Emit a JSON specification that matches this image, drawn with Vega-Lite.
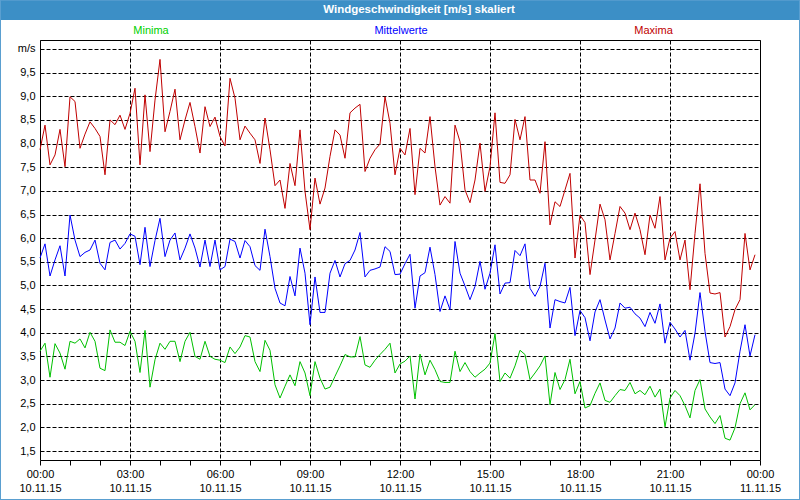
{
  "$schema": "https://vega.github.io/schema/vega-lite/v6.json",
  "width": 720,
  "height": 420,
  "autosize": {"type": "none"},
  "padding": {"left": 40, "top": 40, "right": 40, "bottom": 40},
  "background": "white",
  "config": {
    "font": "Liberation Sans",
    "view": {"stroke": "black", "strokeWidth": 1},
    "axis": {"labelFont": "Liberation Sans", "labelFontSize": 11, "labelColor": "#000000"}
  },
  "layer": [
    {
      "data": {"format": {"parse": {"t": "utc:'%Y-%m-%dT%H:%M'"}}, "values": [
{"t":"2015-11-10T00:00","Minima":3.61,"Mittelwerte":5.58,"Maxima":7.87},
{"t":"2015-11-10T00:10","Minima":3.78,"Mittelwerte":5.88,"Maxima":8.39},
{"t":"2015-11-10T00:20","Minima":3.06,"Mittelwerte":5.20,"Maxima":7.55},
{"t":"2015-11-10T00:30","Minima":3.77,"Mittelwerte":5.54,"Maxima":7.76},
{"t":"2015-11-10T00:40","Minima":3.57,"Mittelwerte":5.84,"Maxima":8.30},
{"t":"2015-11-10T00:50","Minima":3.23,"Mittelwerte":5.20,"Maxima":7.51},
{"t":"2015-11-10T01:00","Minima":3.82,"Mittelwerte":6.49,"Maxima":8.99},
{"t":"2015-11-10T01:10","Minima":3.78,"Mittelwerte":5.96,"Maxima":8.89},
{"t":"2015-11-10T01:20","Minima":3.87,"Mittelwerte":5.61,"Maxima":7.90},
{"t":"2015-11-10T01:30","Minima":3.68,"Mittelwerte":5.70,"Maxima":8.20},
{"t":"2015-11-10T01:40","Minima":4.01,"Mittelwerte":5.75,"Maxima":8.46},
{"t":"2015-11-10T01:50","Minima":3.82,"Mittelwerte":5.96,"Maxima":8.32},
{"t":"2015-11-10T02:00","Minima":3.25,"Mittelwerte":5.47,"Maxima":8.15},
{"t":"2015-11-10T02:10","Minima":3.20,"Mittelwerte":5.33,"Maxima":7.34},
{"t":"2015-11-10T02:20","Minima":4.06,"Mittelwerte":5.91,"Maxima":8.50},
{"t":"2015-11-10T02:30","Minima":3.80,"Mittelwerte":5.96,"Maxima":8.40},
{"t":"2015-11-10T02:40","Minima":3.80,"Mittelwerte":5.77,"Maxima":8.60},
{"t":"2015-11-10T02:50","Minima":3.73,"Mittelwerte":5.89,"Maxima":8.30},
{"t":"2015-11-10T03:00","Minima":4.03,"Mittelwerte":6.09,"Maxima":8.64},
{"t":"2015-11-10T03:10","Minima":3.82,"Mittelwerte":6.04,"Maxima":9.17},
{"t":"2015-11-10T03:20","Minima":3.16,"Mittelwerte":5.44,"Maxima":7.55},
{"t":"2015-11-10T03:30","Minima":4.05,"Mittelwerte":6.23,"Maxima":9.03},
{"t":"2015-11-10T03:40","Minima":2.85,"Mittelwerte":5.40,"Maxima":7.83},
{"t":"2015-11-10T03:50","Minima":3.43,"Mittelwerte":5.95,"Maxima":8.92},
{"t":"2015-11-10T04:00","Minima":3.78,"Mittelwerte":6.42,"Maxima":9.78},
{"t":"2015-11-10T04:10","Minima":3.65,"Mittelwerte":5.61,"Maxima":8.25},
{"t":"2015-11-10T04:20","Minima":3.82,"Mittelwerte":5.96,"Maxima":8.68},
{"t":"2015-11-10T04:30","Minima":3.82,"Mittelwerte":6.11,"Maxima":9.15},
{"t":"2015-11-10T04:40","Minima":3.39,"Mittelwerte":5.54,"Maxima":8.08},
{"t":"2015-11-10T04:50","Minima":3.82,"Mittelwerte":5.79,"Maxima":8.50},
{"t":"2015-11-10T05:00","Minima":4.01,"Mittelwerte":6.09,"Maxima":8.87},
{"t":"2015-11-10T05:10","Minima":3.50,"Mittelwerte":5.79,"Maxima":8.36},
{"t":"2015-11-10T05:20","Minima":3.44,"Mittelwerte":5.39,"Maxima":7.80},
{"t":"2015-11-10T05:30","Minima":3.82,"Mittelwerte":5.96,"Maxima":8.78},
{"t":"2015-11-10T05:40","Minima":3.50,"Mittelwerte":5.40,"Maxima":8.36},
{"t":"2015-11-10T05:50","Minima":3.44,"Mittelwerte":5.96,"Maxima":8.56},
{"t":"2015-11-10T06:00","Minima":3.42,"Mittelwerte":5.33,"Maxima":8.15},
{"t":"2015-11-10T06:10","Minima":3.37,"Mittelwerte":5.40,"Maxima":7.95},
{"t":"2015-11-10T06:20","Minima":3.70,"Mittelwerte":5.98,"Maxima":9.38},
{"t":"2015-11-10T06:30","Minima":3.56,"Mittelwerte":5.93,"Maxima":8.96},
{"t":"2015-11-10T06:40","Minima":3.70,"Mittelwerte":5.58,"Maxima":8.08},
{"t":"2015-11-10T06:50","Minima":3.94,"Mittelwerte":5.95,"Maxima":8.37},
{"t":"2015-11-10T07:00","Minima":3.91,"Mittelwerte":5.82,"Maxima":8.22},
{"t":"2015-11-10T07:10","Minima":3.39,"Mittelwerte":5.42,"Maxima":8.08},
{"t":"2015-11-10T07:20","Minima":3.18,"Mittelwerte":5.32,"Maxima":7.58},
{"t":"2015-11-10T07:30","Minima":3.84,"Mittelwerte":6.19,"Maxima":8.54},
{"t":"2015-11-10T07:40","Minima":3.63,"Mittelwerte":5.61,"Maxima":7.87},
{"t":"2015-11-10T07:50","Minima":2.90,"Mittelwerte":4.94,"Maxima":7.11},
{"t":"2015-11-10T08:00","Minima":2.62,"Mittelwerte":4.63,"Maxima":7.23},
{"t":"2015-11-10T08:10","Minima":2.87,"Mittelwerte":4.57,"Maxima":6.63},
{"t":"2015-11-10T08:20","Minima":3.11,"Mittelwerte":5.19,"Maxima":7.58},
{"t":"2015-11-10T08:30","Minima":2.88,"Mittelwerte":4.78,"Maxima":7.11},
{"t":"2015-11-10T08:40","Minima":3.39,"Mittelwerte":5.79,"Maxima":8.29},
{"t":"2015-11-10T08:50","Minima":3.15,"Mittelwerte":5.26,"Maxima":6.99},
{"t":"2015-11-10T09:00","Minima":2.67,"Mittelwerte":4.17,"Maxima":6.18},
{"t":"2015-11-10T09:10","Minima":3.39,"Mittelwerte":5.18,"Maxima":7.27},
{"t":"2015-11-10T09:20","Minima":3.04,"Mittelwerte":4.43,"Maxima":6.72},
{"t":"2015-11-10T09:30","Minima":2.81,"Mittelwerte":4.43,"Maxima":7.06},
{"t":"2015-11-10T09:40","Minima":2.85,"Mittelwerte":5.26,"Maxima":7.73},
{"t":"2015-11-10T09:50","Minima":3.08,"Mittelwerte":5.53,"Maxima":8.29},
{"t":"2015-11-10T10:00","Minima":3.30,"Mittelwerte":5.18,"Maxima":8.18},
{"t":"2015-11-10T10:10","Minima":3.54,"Mittelwerte":5.46,"Maxima":7.69},
{"t":"2015-11-10T10:20","Minima":3.49,"Mittelwerte":5.53,"Maxima":8.65},
{"t":"2015-11-10T10:30","Minima":3.49,"Mittelwerte":5.75,"Maxima":8.75},
{"t":"2015-11-10T10:40","Minima":3.92,"Mittelwerte":6.12,"Maxima":8.83},
{"t":"2015-11-10T10:50","Minima":3.32,"Mittelwerte":5.18,"Maxima":7.41},
{"t":"2015-11-10T11:00","Minima":3.27,"Mittelwerte":5.32,"Maxima":7.69},
{"t":"2015-11-10T11:10","Minima":3.42,"Mittelwerte":5.35,"Maxima":7.87},
{"t":"2015-11-10T11:20","Minima":3.54,"Mittelwerte":5.39,"Maxima":7.99},
{"t":"2015-11-10T11:30","Minima":3.65,"Mittelwerte":5.82,"Maxima":8.99},
{"t":"2015-11-10T11:40","Minima":3.78,"Mittelwerte":5.72,"Maxima":8.43},
{"t":"2015-11-10T11:50","Minima":3.15,"Mittelwerte":5.23,"Maxima":7.34},
{"t":"2015-11-10T12:00","Minima":3.34,"Mittelwerte":5.24,"Maxima":7.90},
{"t":"2015-11-10T12:10","Minima":3.40,"Mittelwerte":5.46,"Maxima":7.76},
{"t":"2015-11-10T12:20","Minima":3.51,"Mittelwerte":5.66,"Maxima":8.32},
{"t":"2015-11-10T12:30","Minima":2.60,"Mittelwerte":4.52,"Maxima":6.92},
{"t":"2015-11-10T12:40","Minima":3.55,"Mittelwerte":5.20,"Maxima":7.90},
{"t":"2015-11-10T12:50","Minima":3.11,"Mittelwerte":5.27,"Maxima":7.80},
{"t":"2015-11-10T13:00","Minima":3.42,"Mittelwerte":5.81,"Maxima":8.57},
{"t":"2015-11-10T13:10","Minima":3.22,"Mittelwerte":5.23,"Maxima":7.51},
{"t":"2015-11-10T13:20","Minima":2.97,"Mittelwerte":4.45,"Maxima":6.70},
{"t":"2015-11-10T13:30","Minima":2.95,"Mittelwerte":4.78,"Maxima":6.88},
{"t":"2015-11-10T13:40","Minima":2.95,"Mittelwerte":4.49,"Maxima":6.74},
{"t":"2015-11-10T13:50","Minima":3.61,"Mittelwerte":5.93,"Maxima":8.39},
{"t":"2015-11-10T14:00","Minima":3.18,"Mittelwerte":5.26,"Maxima":8.04},
{"t":"2015-11-10T14:10","Minima":3.37,"Mittelwerte":4.99,"Maxima":7.02},
{"t":"2015-11-10T14:20","Minima":3.18,"Mittelwerte":4.70,"Maxima":6.75},
{"t":"2015-11-10T14:30","Minima":3.06,"Mittelwerte":4.98,"Maxima":7.23},
{"t":"2015-11-10T14:40","Minima":3.15,"Mittelwerte":5.51,"Maxima":8.01},
{"t":"2015-11-10T14:50","Minima":3.23,"Mittelwerte":4.92,"Maxima":6.99},
{"t":"2015-11-10T15:00","Minima":3.36,"Mittelwerte":5.26,"Maxima":7.51},
{"t":"2015-11-10T15:10","Minima":3.98,"Mittelwerte":5.86,"Maxima":8.65},
{"t":"2015-11-10T15:20","Minima":2.97,"Mittelwerte":4.82,"Maxima":7.18},
{"t":"2015-11-10T15:30","Minima":3.15,"Mittelwerte":5.05,"Maxima":7.16},
{"t":"2015-11-10T15:40","Minima":3.04,"Mittelwerte":5.06,"Maxima":7.34},
{"t":"2015-11-10T15:50","Minima":3.30,"Mittelwerte":5.74,"Maxima":8.51},
{"t":"2015-11-10T16:00","Minima":3.63,"Mittelwerte":5.63,"Maxima":8.08},
{"t":"2015-11-10T16:10","Minima":3.54,"Mittelwerte":5.88,"Maxima":8.57},
{"t":"2015-11-10T16:20","Minima":3.01,"Mittelwerte":4.94,"Maxima":7.23},
{"t":"2015-11-10T16:30","Minima":3.15,"Mittelwerte":4.77,"Maxima":7.23},
{"t":"2015-11-10T16:40","Minima":3.30,"Mittelwerte":4.98,"Maxima":6.95},
{"t":"2015-11-10T16:50","Minima":3.51,"Mittelwerte":5.47,"Maxima":8.04},
{"t":"2015-11-10T17:00","Minima":2.48,"Mittelwerte":4.10,"Maxima":6.28},
{"t":"2015-11-10T17:10","Minima":3.16,"Mittelwerte":4.70,"Maxima":6.77},
{"t":"2015-11-10T17:20","Minima":2.80,"Mittelwerte":4.66,"Maxima":6.67},
{"t":"2015-11-10T17:30","Minima":3.01,"Mittelwerte":4.63,"Maxima":7.02},
{"t":"2015-11-10T17:40","Minima":3.44,"Mittelwerte":4.96,"Maxima":7.37},
{"t":"2015-11-10T17:50","Minima":2.71,"Mittelwerte":3.94,"Maxima":5.58},
{"t":"2015-11-10T18:00","Minima":2.97,"Mittelwerte":4.47,"Maxima":6.49},
{"t":"2015-11-10T18:10","Minima":2.41,"Mittelwerte":4.32,"Maxima":6.33},
{"t":"2015-11-10T18:20","Minima":2.46,"Mittelwerte":3.83,"Maxima":5.23},
{"t":"2015-11-10T18:30","Minima":2.72,"Mittelwerte":4.44,"Maxima":5.96},
{"t":"2015-11-10T18:40","Minima":2.94,"Mittelwerte":4.70,"Maxima":6.72},
{"t":"2015-11-10T18:50","Minima":2.57,"Mittelwerte":4.27,"Maxima":6.39},
{"t":"2015-11-10T19:00","Minima":2.53,"Mittelwerte":3.87,"Maxima":5.54},
{"t":"2015-11-10T19:10","Minima":2.67,"Mittelwerte":4.10,"Maxima":6.10},
{"t":"2015-11-10T19:20","Minima":2.80,"Mittelwerte":4.63,"Maxima":6.67},
{"t":"2015-11-10T19:30","Minima":2.78,"Mittelwerte":4.52,"Maxima":6.53},
{"t":"2015-11-10T19:40","Minima":2.95,"Mittelwerte":4.54,"Maxima":6.18},
{"t":"2015-11-10T19:50","Minima":2.71,"Mittelwerte":4.40,"Maxima":6.53},
{"t":"2015-11-10T20:00","Minima":2.78,"Mittelwerte":4.31,"Maxima":6.18},
{"t":"2015-11-10T20:10","Minima":2.69,"Mittelwerte":4.13,"Maxima":5.65},
{"t":"2015-11-10T20:20","Minima":2.87,"Mittelwerte":4.43,"Maxima":6.49},
{"t":"2015-11-10T20:30","Minima":2.64,"Mittelwerte":4.20,"Maxima":6.21},
{"t":"2015-11-10T20:40","Minima":2.81,"Mittelwerte":4.61,"Maxima":6.88},
{"t":"2015-11-10T20:50","Minima":2.01,"Mittelwerte":3.78,"Maxima":5.54},
{"t":"2015-11-10T21:00","Minima":2.62,"Mittelwerte":4.22,"Maxima":6.00},
{"t":"2015-11-10T21:10","Minima":2.78,"Mittelwerte":4.08,"Maxima":6.14},
{"t":"2015-11-10T21:20","Minima":2.67,"Mittelwerte":3.91,"Maxima":5.54},
{"t":"2015-11-10T21:30","Minima":2.46,"Mittelwerte":4.05,"Maxima":5.96},
{"t":"2015-11-10T21:40","Minima":2.20,"Mittelwerte":3.42,"Maxima":4.91},
{"t":"2015-11-10T21:50","Minima":2.78,"Mittelwerte":3.99,"Maxima":6.10},
{"t":"2015-11-10T22:00","Minima":3.01,"Mittelwerte":4.85,"Maxima":7.15},
{"t":"2015-11-10T22:10","Minima":2.39,"Mittelwerte":4.03,"Maxima":5.68},
{"t":"2015-11-10T22:20","Minima":2.22,"Mittelwerte":3.37,"Maxima":4.84},
{"t":"2015-11-10T22:30","Minima":2.08,"Mittelwerte":3.35,"Maxima":4.82},
{"t":"2015-11-10T22:40","Minima":2.25,"Mittelwerte":3.37,"Maxima":4.85},
{"t":"2015-11-10T22:50","Minima":1.77,"Mittelwerte":2.81,"Maxima":3.91},
{"t":"2015-11-10T23:00","Minima":1.73,"Mittelwerte":2.67,"Maxima":4.13},
{"t":"2015-11-10T23:10","Minima":1.99,"Mittelwerte":2.94,"Maxima":4.49},
{"t":"2015-11-10T23:20","Minima":2.50,"Mittelwerte":3.61,"Maxima":4.70},
{"t":"2015-11-10T23:30","Minima":2.73,"Mittelwerte":4.17,"Maxima":6.10},
{"t":"2015-11-10T23:40","Minima":2.37,"Mittelwerte":3.51,"Maxima":5.33},
{"t":"2015-11-10T23:50","Minima":2.48,"Mittelwerte":3.96,"Maxima":5.65}
      ]},
      "transform": [{"fold": ["Minima", "Mittelwerte", "Maxima"], "as": ["series", "v"]}],
      "mark": {"type": "line", "strokeWidth": 1},
      "encoding": {
        "x": {
          "field": "t", "type": "temporal",
          "scale": {"type": "utc", "domain": [1447113600000, 1447200000000], "nice": false},
          "axis": {
            "title": null,
            "tickCount": 24,
            "domain": false,
            "ticks": true,
            "tickSize": 5,
            "tickColor": "black",
            "labelPadding": 3,
            "labelLineHeight": 14,
            "labelOverlap": false,
            "labelFlush": false,
            "labelExpr": "utchours(datum.value) % 3 == 0 ? [utcFormat(datum.value, '%H:%M'), utcFormat(datum.value, '%d.%m.%y')] : ''",
            "grid": true,
            "gridColor": "black",
            "gridDash": [4, 2],
            "gridOpacity": {"condition": {"test": "utchours(datum.value) % 3 == 0", "value": 1}, "value": 0}
          }
        },
        "y": {
          "field": "v", "type": "quantitative",
          "scale": {"domain": [1.31, 10.19], "nice": false, "zero": false},
          "axis": {
            "title": null,
            "values": [1.5, 2, 2.5, 3, 3.5, 4, 4.5, 5, 5.5, 6, 6.5, 7, 7.5, 8, 8.5, 9, 9.5, 10],
            "tickCount": 100,
            "domain": false,
            "ticks": false,
            "labelPadding": 5,
            "labelOverlap": false,
            "labelExpr": "datum.value >= 10 ? 'm/s' : replace(format(datum.value, '.1f'), '.', ',')",
            "grid": true,
            "gridColor": "black",
            "gridDash": [4, 2]
          }
        },
        "color": {
          "field": "series", "type": "nominal",
          "scale": {"domain": ["Minima", "Mittelwerte", "Maxima"], "range": ["#00c000", "#0000ff", "#c00000"]},
          "legend": null
        }
      }
    },
    {
      "data": {"values": [{"title": "Windgeschwindigkeit [m/s] skaliert"}]},
      "mark": {"type": "rect", "color": "#3c8fc6"},
      "encoding": {
        "x": {"datum": 1447108800000, "type": "temporal"},
        "x2": {"datum": 1447204800000},
        "y": {"datum": 10.613, "type": "quantitative"},
        "y2": {"datum": 11.04}
      }
    },
    {
      "data": {"values": [{"title": "Windgeschwindigkeit [m/s] skaliert"}]},
      "mark": {"type": "rect", "filled": false, "stroke": "#5a9fd0", "strokeWidth": 2},
      "encoding": {
        "x": {"datum": 1447108800000, "type": "temporal"},
        "x2": {"datum": 1447204800000},
        "y": {"datum": 0.464, "type": "quantitative"},
        "y2": {"datum": 11.04}
      }
    },
    {
      "data": {"values": [{"title": "Windgeschwindigkeit [m/s] skaliert"}]},
      "mark": {"type": "text", "color": "white", "fontWeight": "bold", "fontSize": 11.5, "baseline": "middle"},
      "encoding": {
        "x": {"datum": 1447159080000, "type": "temporal"},
        "y": {"datum": 10.825, "type": "quantitative"},
        "text": {"field": "title"}
      }
    },
    {
      "data": {"values": [{"series": "Minima"}]},
      "mark": {"type": "text", "fontSize": 11, "color": "#00d000"},
      "encoding": {
        "x": {"datum": 1447126920000, "type": "temporal"},
        "y": {"datum": 10.37, "type": "quantitative"},
        "text": {"field": "series"}
      }
    },
    {
      "data": {"values": [{"series": "Mittelwerte"}]},
      "mark": {"type": "text", "fontSize": 11, "color": "#0000ff"},
      "encoding": {
        "x": {"datum": 1447156920000, "type": "temporal"},
        "y": {"datum": 10.37, "type": "quantitative"},
        "text": {"field": "series"}
      }
    },
    {
      "data": {"values": [{"series": "Maxima"}]},
      "mark": {"type": "text", "fontSize": 11, "color": "#c00000"},
      "encoding": {
        "x": {"datum": 1447187220000, "type": "temporal"},
        "y": {"datum": 10.37, "type": "quantitative"},
        "text": {"field": "series"}
      }
    }
  ]
}
